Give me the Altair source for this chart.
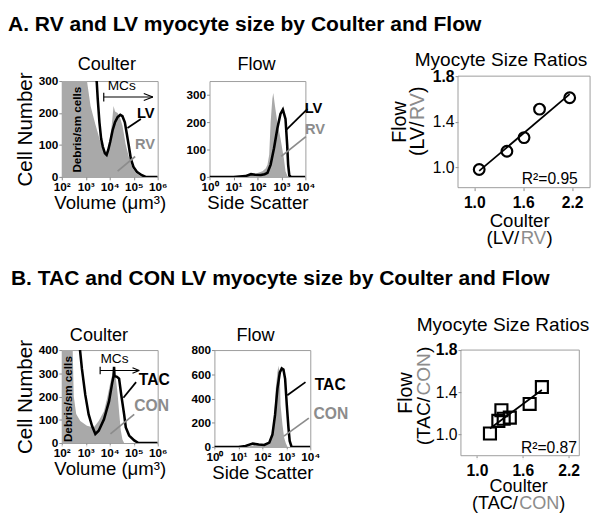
import altair as alt
import pandas as pd

FONT = "Liberation Sans"
FILL = "#a9a9a9"
GTXT = "#8c8c8c"
FRAME = "#9c9c9c"
SUP = "'10' + ['\u2070','\u00b9','\u00b2','\u00b3','\u2074','\u2075','\u2076'][datum.value]"

# ---------------- data: A1 Coulter (log10 volume, cell number) ----------------
a1_rv_logv = [2.0, 2.5, 2.9, 3.05, 3.2, 3.4, 3.57, 3.7, 3.8, 3.9, 4.0, 4.08, 4.16, 4.22, 4.33, 4.43, 4.53, 4.67, 4.81, 4.95, 5.08, 5.28, 5.5, 6.0]
a1_rv_count = [900, 800, 500, 300, 222, 165, 120, 90, 75, 82, 115, 160, 222, 205, 200, 185, 161, 100, 59, 28, 13, 3, 0, 0]
a1_lv_logv = [2.0, 3.0, 3.3, 3.43, 3.46, 3.5, 3.57, 3.64, 3.71, 3.8, 3.87, 3.94, 4.02, 4.12, 4.22, 4.33, 4.44, 4.53, 4.63, 4.71, 4.8, 4.88, 4.99, 5.13, 5.32, 5.5, 6.0]
a1_lv_count = [3000, 1200, 500, 320, 294, 243, 171, 120, 95, 74, 69, 85, 110, 146, 171, 187, 194, 190, 171, 136, 95, 57, 31, 16, 6, 0, 0]

# ---------------- data: A2 Flow (log10 side scatter, cell number) ----------------
a2_lv_logs = [0, 1.0, 1.5, 1.73, 1.9, 2.14, 2.3, 2.42, 2.55, 2.69, 2.83, 2.96, 3.06, 3.17, 3.24, 3.28, 3.33, 3.4, 4.0]
a2_lv_count = [0, 0, 3, 10, 8, 7, 10, 15, 45, 105, 177, 230, 246, 212, 117, 45, 5, 0, 0]
a2_rv_logs = [0, 1.0, 1.5, 1.75, 2.0, 2.21, 2.35, 2.42, 2.49, 2.55, 2.62, 2.66, 2.73, 2.83, 2.96, 3.1, 3.17, 3.25, 3.4, 4.0]
a2_rv_count = [0, 0, 4, 10, 14, 21, 32, 45, 81, 200, 284, 306, 260, 200, 141, 69, 21, 3, 0, 0]

# ---------------- data: A3 ratios ----------------
a3_coulter = [1.06, 1.40, 1.61, 1.80, 2.17]
a3_flow = [0.98, 1.14, 1.26, 1.51, 1.61]

# ---------------- data: B1 Coulter ----------------
b1_con_logv = [2.0, 2.4, 2.45, 2.5, 2.6, 2.77, 3.05, 3.33, 3.54, 3.76, 3.89, 4.03, 4.12, 4.17, 4.24, 4.32, 4.4, 4.46, 4.53, 4.6, 6.0]
b1_con_count = [1000, 800, 420, 200, 125, 95, 74, 67, 95, 137, 193, 263, 300, 312, 290, 221, 123, 55, 15, 0, 0]
b1_tac_logv = [2.0, 2.5, 2.74, 2.84, 2.98, 3.12, 3.26, 3.40, 3.54, 3.76, 3.97, 4.11, 4.16, 4.18, 4.2, 4.3, 4.39, 4.48, 4.6, 4.67, 4.81, 5.02, 5.2, 6.0]
b1_tac_count = [3000, 1200, 420, 319, 207, 123, 74, 39, 53, 102, 179, 263, 288, 328, 288, 285, 277, 207, 123, 67, 32, 11, 0, 0]

# ---------------- data: B2 Flow ----------------
b2_tac_logs = [0, 1.0, 1.3, 1.6, 1.85, 2.08, 2.29, 2.42, 2.53, 2.63, 2.73, 2.81, 2.88, 2.95, 3.02, 3.09, 3.14, 3.22, 4.0]
b2_tac_count = [0, 0, 8, 27, 20, 16, 35, 102, 264, 481, 616, 649, 640, 562, 346, 157, 49, 0, 0]
b2_con_logs = [0, 1.3, 1.7, 2.0, 2.29, 2.42, 2.49, 2.56, 2.63, 2.67, 2.73, 2.76, 2.84, 2.91, 2.98, 3.05, 4.0]
b2_con_count = [0, 0, 15, 20, 40, 100, 211, 481, 616, 670, 590, 346, 184, 76, 30, 0, 0]

# ---------------- data: B3 ratios ----------------
b3_coulter = [1.17, 1.28, 1.32, 1.35, 1.43, 1.69, 1.85]
b3_flow = [1.01, 1.13, 1.23, 1.15, 1.16, 1.29, 1.45]

# ---------------- annotation anchors (data units) ----------------
a1_black_label = [("LV", 5.5, 199)]
a1_gray_label = [("RV", 5.47, 102)]
a1_black_lead = [(4.74, 153, 5.3, 181)]
a1_gray_lead = [(4.33, 18, 5.06, 64)]
a1_mcs = [("MCs", 4.5, 283)]
a1_bracket = [(3.75, 250, 5.8, 250), (3.75, 236, 3.75, 263), (5.42, 261, 5.8, 250), (5.42, 239, 5.8, 250)]
a1_debris = [("Debris/sm cells", 2.64, 148)]

a2_black_label = [("LV", 4.34, 251)]
a2_gray_label = [("RV", 4.4, 174)]
a2_black_lead = [(3.19, 171, 4.09, 248)]
a2_gray_lead = [(2.99, 75, 4.02, 147)]

b1_black_label = [("TAC", 5.86, 270)]
b1_gray_label = [("CON", 5.75, 160)]
b1_black_lead = [(4.57, 195, 5.1, 262)]
b1_gray_lead = [(4.03, 39, 5.02, 123)]
b1_mcs = [("MCs", 4.2, 362)]
b1_bracket = [(3.6, 312, 5.23, 312), (3.6, 296, 3.6, 328), (4.95, 324, 5.23, 312), (4.95, 300, 5.23, 312)]
b1_debris = [("Debris/sm cells", 2.28, 189)]

b2_black_label = [("TAC", 4.83, 513)]
b2_gray_label = [("CON", 4.86, 270)]
b2_black_lead = [(3.04, 427, 3.8, 535)]
b2_gray_lead = [(2.9, 89, 3.94, 238)]

a3_r2 = [("R\u00b2=0.95", 2.27, 0.855)]
b3_r2 = [("R\u00b2=0.87", 2.31, 0.83)]

# Arial / Liberation Sans advance widths (per 1000 em)
W = {"(": 333, ")": 333, "/": 278, "L": 556, "V": 667, "R": 722, "T": 611,
     "A": 667, "C": 722, "O": 778, "N": 722}


def tw(s, f):
    return sum(W[c] for c in s) * f / 1000.0


def one():
    return pd.DataFrame({"k": [0]})


def spacers(left, right, top, bottom):
    b = alt.Chart(one())
    m = dict(color="white", strokeWidth=1)
    return [b.mark_rule(**m).encode(x=alt.value(left)),
            b.mark_rule(**m).encode(x=alt.value(right)),
            b.mark_rule(**m).encode(y=alt.value(top)),
            b.mark_rule(**m).encode(y=alt.value(bottom))]


def seg_layer(rows, color, X, Y, width=1.6):
    df = pd.DataFrame(rows, columns=["x", "y", "x2", "y2"])
    return alt.Chart(df).mark_rule(color=color, strokeWidth=width).encode(
        X, Y, x2=alt.X2("x2"), y2=alt.Y2("y2"))


def text_layer(rows, X, Y, color, size, weight="bold", angle=0, align="center", baseline="middle"):
    df = pd.DataFrame(rows, columns=["t", "x", "y"])
    return alt.Chart(df).mark_text(color=color, fontSize=size, fontWeight=weight, angle=angle,
                                   align=align, baseline=baseline, font=FONT).encode(X, Y, text="t:N")


def fixed_text(t, x, y, size, color="black", weight="normal", angle=0, align="center", baseline="middle"):
    return alt.Chart(one()).mark_text(text=t, color=color, fontSize=size, fontWeight=weight, angle=angle,
                                      align=align, baseline=baseline, font=FONT).encode(
        x=alt.value(x), y=alt.value(y))


def multi_text(parts, f, cx, cy, vertical):
    total = sum(tw(t, f) for t, _ in parts)
    out = []
    pos = cy + total / 2 if vertical else cx - total / 2
    for t, col in parts:
        if vertical:
            out.append(fixed_text(t, cx, pos, f, color=col, angle=270, align="left"))
            pos -= tw(t, f)
        else:
            out.append(fixed_text(t, pos, cy, f, color=col, align="left"))
            pos += tw(t, f)
    return out


def panel_title(t, cx, y, size=18.5):
    return fixed_text(t, cx, y, size, baseline="alphabetic")


def hist_panel(w, h, xdom, ydom, yticks, gx, gy, bx, by, xtitle, ytitle, title, tcx, ty,
               blab, glab, blead, glead, lab_size, sp, mcs=None, bracket=None, debris=None):
    X = alt.X("x:Q", scale=alt.Scale(domain=xdom, nice=False, zero=False),
              axis=alt.Axis(values=list(range(xdom[0], xdom[1] + 1)), labelExpr=SUP, title=xtitle,
                            labelFlush=False, labelOverlap=False, labelFontSize=12, labelFontWeight="bold",
                            tickSize=3, labelPadding=2, titleFontSize=19, titlePadding=1))
    if ytitle:
        yax = alt.Axis(values=yticks, labelFontSize=12, labelFontWeight="bold", tickSize=3, labelPadding=1,
                       labelOverlap=False, title=ytitle, titleFontSize=21, titlePadding=3)
    else:
        yax = alt.Axis(values=yticks, labelFontSize=12, labelFontWeight="bold", tickSize=3, labelPadding=1,
                       labelOverlap=False, title=None)
    Y = alt.Y("y:Q", scale=alt.Scale(domain=ydom, nice=False, zero=False), axis=yax)
    layers = spacers(*sp)
    layers.append(alt.Chart(pd.DataFrame({"x": gx, "y": gy})).mark_area(color=FILL, clip=True).encode(X, Y))
    layers.append(alt.Chart(pd.DataFrame({"x": bx, "y": by})).mark_line(color="black", strokeWidth=2.6,
                                                                         clip=True).encode(X, Y))
    layers.append(seg_layer(blead, "black", X, Y, 1.8))
    layers.append(seg_layer(glead, GTXT, X, Y, 1.8))
    layers.append(text_layer(blab, X, Y, "black", lab_size))
    layers.append(text_layer(glab, X, Y, GTXT, lab_size))
    if mcs:
        layers.append(text_layer(mcs, X, Y, "black", 14, weight="normal"))
    if bracket:
        layers.append(seg_layer(bracket, "black", X, Y, 1.2))
    if debris:
        layers.append(text_layer(debris, X, Y, "black", 12, angle=270))
    layers.append(panel_title(title, tcx, ty))
    return alt.layer(*layers).properties(width=w, height=h)


def scatter_panel(w, h, top, xdom, ydom, cx, fy, shape, size, r2, ytitles, xtitles, tcx, ty, sp):
    # plot frame runs from y=top (may be negative) down to y=h
    X = alt.X("x:Q", scale=alt.Scale(domain=xdom, nice=False, zero=False),
              axis=alt.Axis(values=[1.0, 1.6, 2.2], format=".1f", title=None, labelFlush=False,
                            labelFontSize=16, labelFontWeight="bold", tickSize=3, labelPadding=4))
    Y = alt.Y("y:Q", scale=alt.Scale(domain=ydom, range=[h, top], nice=False, zero=False),
              axis=alt.Axis(values=[1.0, 1.4, 1.8], format=".1f", title=None, labelFontSize=16,
                            labelFontWeight={"condition": {"test": "datum.value >= 1.75", "value": "bold"},
                                             "value": "normal"},
                            tickSize=3, labelPadding=1))
    df = pd.DataFrame({"x": cx, "y": fy})
    layers = spacers(*sp)
    layers.append(alt.Chart(one()).mark_rect(filled=False, color=FRAME, strokeWidth=1).encode(
        x=alt.value(0), x2=alt.value(w), y=alt.value(top), y2=alt.value(h)))
    layers.append(alt.Chart(df).transform_regression("x", "y").mark_line(color="black", strokeWidth=1.8)
                  .encode(X, Y))
    layers.append(alt.Chart(df).mark_point(shape=shape, filled=False, color="black", strokeWidth=2.2,
                                           size=size, opacity=1).encode(X, Y))
    layers.append(text_layer(r2, X, Y, "black", 16, weight="normal", align="right", baseline="alphabetic"))
    layers.extend(ytitles)
    layers.extend(xtitles)
    layers.append(panel_title("Myocyte Size Ratios", tcx, ty, 19.5))
    return alt.layer(*layers).properties(width=w, height=h, view=alt.ViewBackground(stroke="transparent"))


def row_title(t, off):
    return alt.TitleParams(text=t, fontSize=21.5, fontWeight="bold", font=FONT, anchor="start",
                           color="black", offset=off)


# ---------------- Row A ----------------
A1 = hist_panel(98, 98, [2, 6], [0, 300], [0, 100, 200, 300], a1_rv_logv, a1_rv_count, a1_lv_logv, a1_lv_count,
                "Volume (\u03bcm\u00b3)", "Cell Number", "Coulter", 46, -11,
                a1_black_label, a1_gray_label, a1_black_lead, a1_gray_lead, 15, (-54, 110, -38, 172),
                mcs=a1_mcs, bracket=a1_bracket, debris=a1_debris)
A2 = hist_panel(98, 98, [0, 4], [0, 350], [0, 100, 200, 300], a2_rv_logs, a2_rv_count, a2_lv_logs, a2_lv_count,
                "Side Scatter", None, "Flow", 48, -11,
                a2_black_label, a2_gray_label, a2_black_lead, a2_gray_lead, 15, (-39, 149, -38, 172))
A3 = scatter_panel(135, 109, -5, [0.8, 2.42], [0.82, 1.8], a3_coulter, a3_flow, "circle", 120, a3_r2,
                   [fixed_text("Flow", -59, 42, 20, angle=270)]
                   + multi_text([("(LV/", "black"), ("RV", GTXT), (")", "black")], 20, -41, 41, True),
                   [fixed_text("Coulter", 63, 143, 19)]
                   + multi_text([("(LV/", "black"), ("RV", GTXT), (")", "black")], 19, 63, 161, False),
                   44, -15, (-103, 137, -38, 172))

# ---------------- Row B ----------------
B1 = hist_panel(98, 95, [2, 6], [0, 400], [0, 100, 200, 300, 400], b1_con_logv, b1_con_count, b1_tac_logv,
                b1_tac_count, "Volume (\u03bcm\u00b3)", "Cell Number", "Coulter", 38, -9,
                b1_black_label, b1_gray_label, b1_black_lead, b1_gray_lead, 16, (-51, 116, -51, 98),
                mcs=b1_mcs, bracket=b1_bracket, debris=b1_debris)
B2 = hist_panel(98, 99, [0, 4], [0, 800], [0, 200, 400, 600, 800], b2_con_logs, b2_con_count, b2_tac_logs,
                b2_tac_count, "Side Scatter", None, "Flow", 42, -9,
                b2_black_label, b2_gray_label, b2_black_lead, b2_gray_lead, 16, (-38, 159, -51, 102))
B3 = scatter_panel(121, 108, 0, [0.79, 2.34], [0.8, 1.8], b3_coulter, b3_flow, "square", 150, b3_r2,
                   [fixed_text("Flow", -56, 44, 20, angle=270)]
                   + multi_text([("(TAC/", "black"), ("CON", GTXT), (")", "black")], 19.5, -38, 47, True),
                   [fixed_text("Coulter", 59, 139, 18.5)]
                   + multi_text([("(TAC/", "black"), ("CON", GTXT), (")", "black")], 18.5, 59, 156, False),
                   43, -19, (-91, 123, -51, 111))

rowA = alt.hconcat(A1, A2, A3, spacing=0,
                   title=row_title("A. RV and LV myocyte size by Coulter and Flow", 8))
rowB = alt.hconcat(B1, B2, B3, spacing=0,
                   title=row_title("B. TAC and CON LV myocyte size by Coulter and Flow", 10))

chart = (alt.vconcat(rowA, rowB, spacing=18)
         .properties(padding=0)
         .configure(font=FONT)
         .configure_view(stroke=FRAME, strokeWidth=1)
         .configure_axis(labelFont=FONT, titleFont=FONT, labelColor="black", titleColor="black",
                         titleFontWeight="normal", tickColor="#8a8a8a", domain=False, grid=False))

chart.save("out.html", embed_options={"renderer": "svg", "actions": False})
